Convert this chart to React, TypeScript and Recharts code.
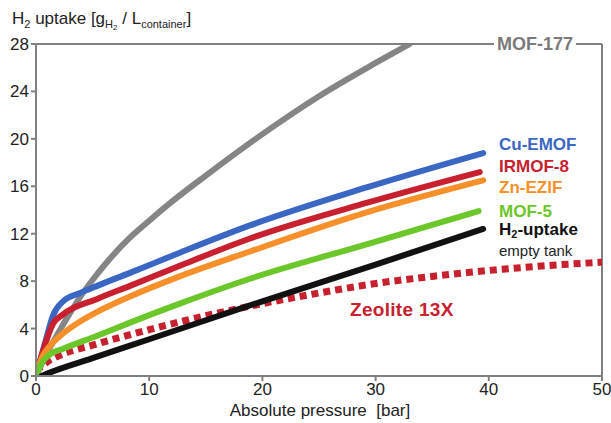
import { LineChart, Line, XAxis, YAxis, ReferenceLine } from 'recharts';

// pressure [bar] and volumetric uptake [g/L]
const mof177P = [0, 1, 2, 3, 4, 5, 6, 7, 8, 10, 12, 15, 20, 25, 30, 33];
const mof177U = [0, 2.0, 3.7, 5.3, 6.8, 8.1, 9.3, 10.4, 11.4, 13.1, 14.7, 16.9, 20.4, 23.6, 26.4, 28];

const cuEmofP = [0, 0.4, 0.8, 1.5, 2.4, 3.9, 5.4, 8.3, 12.7, 18.9, 29.2, 39.5];
const cuEmofU = [0, 1.4, 2.8, 5.1, 6.3, 7.0, 7.6, 8.7, 10.4, 12.7, 15.9, 18.8];

const irmof8P = [0, 0.65, 1.5, 2.4, 5.4, 8.3, 12.7, 18.9, 29.2, 39.2];
const irmof8U = [0, 2.2, 4.4, 5.2, 6.5, 7.6, 9.3, 11.6, 14.6, 17.2];

const znEzifP = [0, 0.5, 1.2, 2.4, 3.9, 5.4, 8.3, 12.7, 18.9, 29.2, 39.5];
const znEzifU = [0, 1.5, 2.5, 3.6, 4.6, 5.4, 6.7, 8.4, 10.5, 13.8, 16.5];

const mof5P = [0, 0.5, 1.2, 2.4, 5.4, 8.3, 12.7, 18.9, 29.2, 39.1];
const mof5U = [0, 1.1, 1.8, 2.3, 3.4, 4.5, 6.1, 8.2, 11.1, 13.9];

const tankP = [0.5, 1, 5, 10, 15, 20, 30, 39.5];
const tankU = [0, 0.2, 1.5, 3.1, 4.7, 6.3, 9.4, 12.4];

const zeoliteP = [0, 1, 2, 5, 8, 12, 16, 20, 25, 30, 35, 40, 45, 50];
const zeoliteU = [0.4, 1.2, 1.7, 2.6, 3.4, 4.4, 5.3, 6.1, 7.0, 7.8, 8.4, 8.9, 9.3, 9.6];

const xTicks = [0, 10, 20, 30, 40, 50];
const yTicks = [0, 4, 8, 12, 16, 20, 24, 28];

const toRows = (p: number[], u: number[]) => p.map((x, i) => ({ p: x, u: u[i] }));

const series = [
  { name: 'MOF-177', data: toRows(mof177P, mof177U), color: '#858585' },
  { name: 'Cu-EMOF', data: toRows(cuEmofP, cuEmofU), color: '#3a66c4' },
  { name: 'IRMOF-8', data: toRows(irmof8P, irmof8U), color: '#c8202e' },
  { name: 'Zn-EZIF', data: toRows(znEzifP, znEzifU), color: '#f7902a' },
  { name: 'MOF-5', data: toRows(mof5P, mof5U), color: '#6cc72a' },
  { name: 'H2-uptake', data: toRows(tankP, tankU), color: '#111111' },
];

const axisColor = '#808080';
const font = '"Liberation Sans", Arial, sans-serif';

const lbl = (left: number, top: number, color: string, size = 17, bold = true) => ({
  position: 'absolute' as const,
  left,
  top,
  color,
  fontSize: size,
  fontWeight: bold ? 700 : 400,
  lineHeight: 1,
  whiteSpace: 'nowrap' as const,
});

const Sub = ({ children, size = 11, drop = 4 }: { children: any; size?: number; drop?: number }) => (
  <span style={{ fontSize: size, position: 'relative', top: drop, lineHeight: 0 }}>{children}</span>
);

export default function App() {
  return (
    <div style={{ position: 'absolute', left: 0, top: 0, width: 611, height: 423, background: '#fff', fontFamily: font }}>
      <LineChart width={611} height={423} data={[]} margin={{ top: 44, right: 9, bottom: 17, left: 0 }}>
        <XAxis
          type="number"
          dataKey="p"
          domain={[0, 50]}
          ticks={xTicks}
          height={30}
          stroke={axisColor}
          strokeWidth={2}
          tickSize={5}
          tick={{ fontSize: 17, fill: '#222', fontFamily: font }}
          allowDataOverflow
        />
        <YAxis
          type="number"
          domain={[0, 28]}
          ticks={yTicks}
          width={36}
          stroke={axisColor}
          strokeWidth={2}
          tickSize={5}
          tick={{ fontSize: 17, fill: '#222', fontFamily: font }}
          allowDataOverflow
        />
        <ReferenceLine y={28} stroke={axisColor} strokeWidth={2} />
        <ReferenceLine x={50} stroke={axisColor} strokeWidth={2} />
        <Line
          data={toRows(zeoliteP, zeoliteU)}
          dataKey="u"
          type="monotone"
          stroke="#c8202e"
          strokeWidth={7}
          strokeDasharray="7 5"
          dot={false}
          isAnimationActive={false}
        />
        {series.map((s) => (
          <Line
            key={s.name}
            data={s.data}
            dataKey="u"
            type="monotone"
            stroke={s.color}
            strokeWidth={6}
            strokeLinecap="round"
            dot={false}
            isAnimationActive={false}
          />
        ))}
      </LineChart>

      <div style={lbl(12, 10, '#222', 17, false)}>
        H<Sub>2</Sub> uptake [g
        <Sub>
          H<Sub size={8} drop={2}>2</Sub>
        </Sub>{' '}
        / L<Sub>container</Sub>]
      </div>
      <div style={{ ...lbl(494, 35, '#7a7a7a', 18), background: '#fff', padding: '0 3px' }}>MOF-177</div>
      <div style={lbl(499, 136, '#3a66c4')}>Cu-EMOF</div>
      <div style={lbl(499, 158, '#c8202e')}>IRMOF-8</div>
      <div style={lbl(499, 179, '#f7902a')}>Zn-EZIF</div>
      <div style={lbl(499, 203, '#6cc72a')}>MOF-5</div>
      <div style={lbl(499, 221, '#111')}>
        H<Sub size={11} drop={3}>2</Sub>-uptake
      </div>
      <div style={lbl(499, 243, '#222', 15, false)}>empty tank</div>
      <div style={{ ...lbl(350, 300, '#c8202e', 19), letterSpacing: 0.3 }}>Zeolite 13X</div>
      <div style={{ ...lbl(0, 402, '#222', 17, false), width: 640, textAlign: 'center' }}>Absolute pressure&nbsp;&nbsp;[bar]</div>
    </div>
  );
}
